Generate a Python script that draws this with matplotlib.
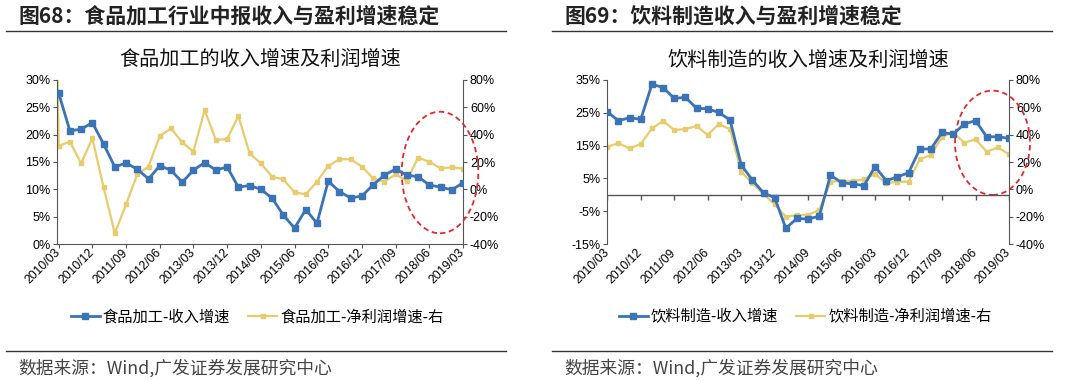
import matplotlib
matplotlib.use('Agg')
import matplotlib.pyplot as plt
import matplotlib.transforms as mtransforms
from matplotlib.patches import Ellipse
from matplotlib.lines import Line2D
from matplotlib.ticker import FuncFormatter

plt.rcParams['font.family'] = ['Noto Sans CJK SC', 'DejaVu Sans']

# 季度 2010/03 - 2019/03
quarters = [f'{y}/{m:02d}' for y in range(2010, 2020) for m in (3, 6, 9, 12)][:37]
tick_idx = list(range(0, 37, 3))

# 食品加工（左轴：收入增速 %，右轴：净利润增速 %）
food_rev = [27.6, 20.7, 21.0, 22.2, 18.3, 14.1, 14.8, 13.7, 11.9, 14.3, 13.5, 11.3,
            13.5, 14.9, 13.5, 14.1, 10.4, 10.7, 10.0, 8.4, 5.3, 2.9, 6.3, 3.8,
            11.5, 9.6, 8.4, 8.8, 10.8, 12.6, 13.7, 12.6, 12.3, 10.8, 10.4, 9.9, 11.2]
food_profit_prev = 600.0  # 2009/12，超出坐标范围
food_profit = [31.7, 34.9, 19.0, 37.3, 1.5, -32.2, -11.0, 11.0, 16.6, 39.0, 44.6, 34.4,
               27.6, 58.0, 36.1, 36.8, 53.7, 26.3, 19.0, 9.3, 7.3, -2.2, -3.7, 5.6,
               17.1, 22.0, 22.0, 16.6, 8.0, 5.6, 11.0, 6.3, 23.2, 20.2, 15.4, 16.1, 15.1]

# 饮料制造
bev_rev = [25.3, 22.6, 23.5, 23.0, 33.7, 32.7, 29.4, 29.7, 26.4, 26.2, 25.1, 22.8,
           9.1, 4.5, 0.6, -0.9, -10.2, -7.2, -7.4, -6.5, 6.0, 3.7, 3.3, 2.8,
           8.6, 4.3, 5.5, 6.7, 13.9, 14.0, 19.0, 18.5, 21.6, 22.6, 17.7, 17.7, 17.2]
bev_profit = [31.2, 33.7, 30.0, 33.2, 44.6, 50.0, 43.4, 44.1, 46.3, 39.8, 47.8, 43.9,
              12.9, 4.4, -3.4, -11.0, -20.0, -18.8, -18.8, -15.1, 5.6, 6.1, 6.1, 7.3,
              11.2, 4.4, 5.6, 5.6, 22.0, 25.1, 38.5, 41.5, 34.1, 36.6, 27.6, 30.7, 25.6]

BLUE = '#3A73B6'
YELLOW = '#E8CC6C'
W, H = 1080, 381

fig = plt.figure(figsize=(W / 100, H / 100), dpi=100)
pct = FuncFormatter(lambda v, p: f'{v:.0f}%')


def fx(px):
    return px / W


def fy(py):
    return 1 - py / H


def panel(x0, x1, title, chart_title, rev, profit, names, ylim, yticks, zero_axis, prev=None):
    ax = fig.add_axes([fx(x0), fy(244), fx(x1 - x0), fy(80) - fy(244)])
    ax2 = ax.twinx()
    x = list(range(len(rev)))
    ax.plot(x, rev, color=BLUE, lw=2.0, marker='s', ms=4.2, zorder=3, label=names[0])
    px = x if prev is None else [-1] + x
    py = profit if prev is None else [prev] + profit
    ax2.plot(px, py, color=YELLOW, lw=1.6, marker='s', ms=2.8,
             markevery=range(1 if prev is not None else 0, len(px)), zorder=2, label=names[1])
    ax.set_zorder(ax2.get_zorder() + 1)
    ax.patch.set_visible(False)

    ax.set_xlim(-0.12 if prev is not None else 0, 36)
    ax.set_ylim(*ylim)
    ax.set_yticks(yticks)
    ax2.set_ylim(-40, 80)
    ax2.set_yticks(range(-40, 81, 20))
    ax.yaxis.set_major_formatter(pct)
    ax2.yaxis.set_major_formatter(pct)

    spc = '#555555'
    for a in (ax, ax2):
        a.spines['top'].set_visible(False)
        a.spines['left'].set_color(spc)
        a.spines['right'].set_color(spc)
        a.spines['bottom'].set_color(spc)
        a.tick_params(axis='y', length=3, color=spc, labelsize=9, pad=2)
        for lab in a.get_yticklabels():
            lab.set_fontfamily('Liberation Sans')
    ax.spines['right'].set_visible(False)
    ax2.spines['left'].set_visible(False)
    ax2.spines['bottom'].set_visible(False)

    ax.set_xticks(tick_idx)
    ax.set_xticklabels([quarters[i] for i in tick_idx], rotation=45, ha='right', va='center',
                       rotation_mode='anchor', fontsize=8.8, fontfamily='Liberation Sans')
    off = mtransforms.ScaledTranslation(7 / 100, -1 / 100, fig.dpi_scale_trans)
    for lab in ax.get_xticklabels():
        lab.set_transform(lab.get_transform() + off)
    if zero_axis:
        ax.spines['bottom'].set_visible(False)
        ax.tick_params(axis='x', length=0, pad=5)
        ax.axhline(0, color=spc, lw=1.0, zorder=1)
        ax.plot(tick_idx, [0] * len(tick_idx), ls='', marker=3, ms=3.5, mew=1.0, color=spc, zorder=1)
    else:
        ax.tick_params(axis='x', length=3, color=spc, pad=2)

    # 图标题与分隔线
    lx0 = 6 if x0 < 300 else 552
    fig.text(fx(lx0 + 13), fy(16), title, fontsize=15, fontweight='bold',
             color='#222222', va='center', ha='left')
    fig.text(fx((x0 + x1) / 2), fy(60), chart_title, fontsize=14.5, color='#111111',
             va='center', ha='center')
    for yy in (31, 351):
        fig.add_artist(Line2D([fx(lx0), fx(lx0 + 500)], [fy(yy), fy(yy)], color='#333333', lw=1.0))
    fig.text(fx(lx0 + 12), fy(368), '数据来源：Wind,广发证券发展研究中心', fontsize=12.8,
             color='#444444', va='center', ha='left')

    h1, l1 = ax.get_legend_handles_labels()
    h2, l2 = ax2.get_legend_handles_labels()
    fig.legend(h1 + h2, l1 + l2, loc='center', bbox_to_anchor=(fx((x0 + x1) / 2 - 3), fy(317)),
               ncol=2, frameon=False, fontsize=11, handlelength=1.9, columnspacing=1.2,
               handletextpad=0.2)
    return ax


panel(57.3, 463, '图68：食品加工行业中报收入与盈利增速稳定', '食品加工的收入增速及利润增速',
      food_rev, food_profit, ['食品加工-收入增速', '食品加工-净利润增速-右'],
      (0, 30), range(0, 31, 5), False, prev=food_profit_prev)
panel(607.3, 1009, '图69：饮料制造收入与盈利增速稳定', '饮料制造的收入增速及利润增速',
      bev_rev, bev_profit, ['饮料制造-收入增速', '饮料制造-净利润增速-右'],
      (-15, 35), range(-15, 36, 10), True)

# 红色虚线圈
for cx, cy, w, h in [(440, 172.5, 76.6, 121.6), (992.5, 142.8, 75, 104.3)]:
    fig.add_artist(Ellipse((fx(cx), fy(cy)), w / W, h / H, transform=fig.transFigure,
                           fill=False, edgecolor='#E8262B', lw=1.3, ls=(0, (3, 2))))

fig.savefig('out.png', dpi=100, facecolor='white')
